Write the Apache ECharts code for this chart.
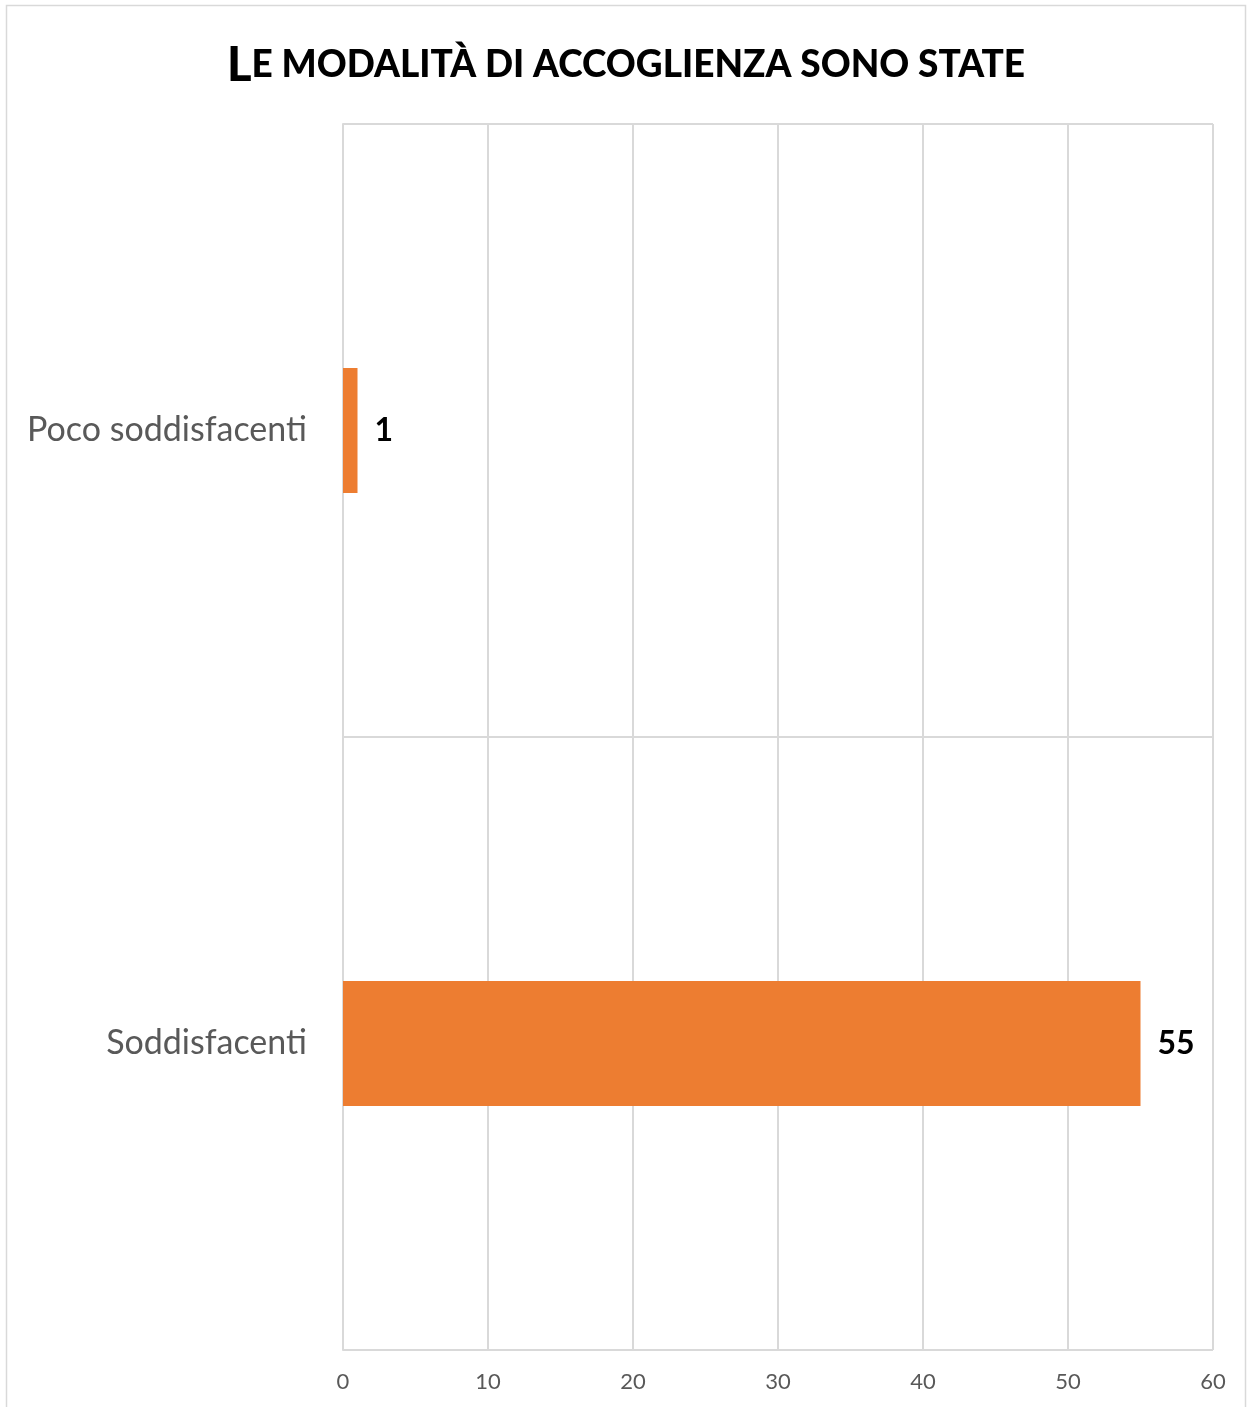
<!DOCTYPE html>
<html>
<head>
<meta charset="utf-8">
<style>
  html, body { margin: 0; padding: 0; background: #fff; }
  #chart { width: 1252px; height: 1407px; }
</style>
<script src="https://cdn.jsdelivr.net/npm/echarts@6/dist/echarts.min.js"></script>
</head>
<body>
<div id="chart"></div>
<script>
// Response categories (top to bottom) and counts
const categories = ['Poco soddisfacenti', 'Soddisfacenti'];
const counts = [1, 55];
const axisMax = 60;
const axisStep = 10;

const chart = echarts.init(document.getElementById('chart'));
const FONT = 'Lato, "Open Sans", sans-serif';

chart.setOption({
  animation: false,
  backgroundColor: '#ffffff',
  graphic: [{
    type: 'rect',
    shape: { x: 6.5, y: 5.5, width: 1239, height: 1420 },
    style: { fill: 'none', stroke: '#d9d9d9', lineWidth: 1.5 },
    silent: true
  }],
  title: {
    text: '{big|L}{small|E MODALITÀ DI ACCOGLIENZA SONO STATE}',
    left: 'center',
    top: 37,
    textStyle: {
      rich: {
        big: { fontFamily: FONT, fontWeight: 900, fontSize: 47, color: '#000' },
        small: { fontFamily: FONT, fontWeight: 900, fontSize: 37, color: '#000' }
      }
    }
  },
  grid: { left: 343, right: 39, top: 124, bottom: 57 },
  xAxis: {
    type: 'value',
    min: 0,
    max: axisMax,
    interval: axisStep,
    axisLine: { show: false },
    axisTick: { show: false },
    splitLine: { show: true, lineStyle: { color: '#d9d9d9', width: 2 } },
    axisLabel: { fontFamily: FONT, fontSize: 22, color: '#595959', margin: 21 }
  },
  yAxis: {
    type: 'category',
    data: categories,
    inverse: true,
    axisLine: { show: true, lineStyle: { color: '#d9d9d9', width: 2 } },
    axisTick: { show: false },
    splitLine: { show: true, lineStyle: { color: '#d9d9d9', width: 2 } },
    axisLabel: { fontFamily: FONT, fontSize: 34, color: '#595959', margin: 36 }
  },
  series: [{
    type: 'bar',
    data: counts,
    barWidth: 125,
    itemStyle: { color: '#ed7d31' },
    label: {
      show: true,
      position: 'right',
      distance: 17,
      fontFamily: FONT,
      fontWeight: 'bold',
      fontSize: 32,
      color: '#000'
    }
  }]
});
</script>
</body>
</html>
